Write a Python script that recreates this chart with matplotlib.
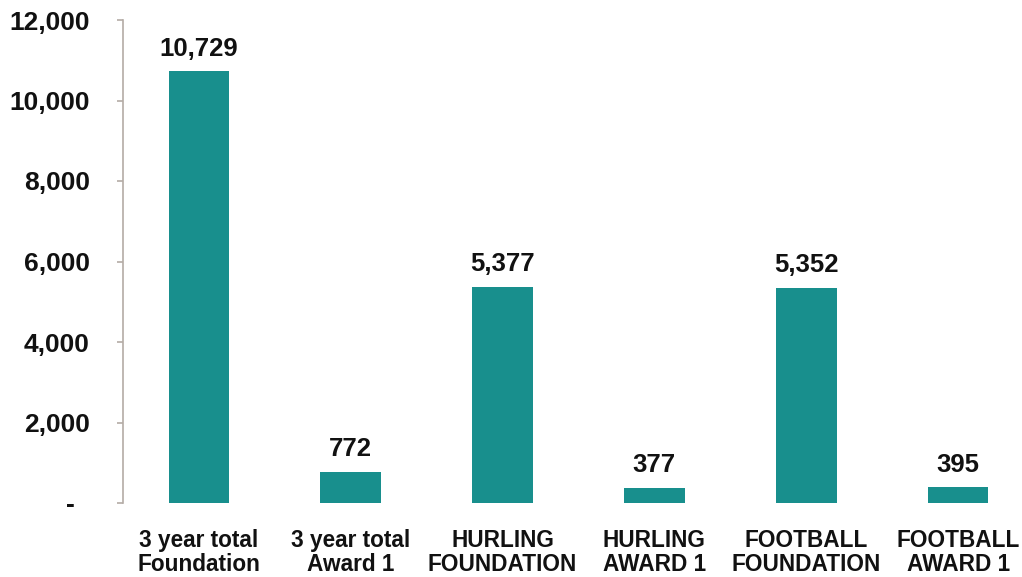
import matplotlib
matplotlib.use("Agg")
import matplotlib.pyplot as plt
from matplotlib.ticker import FuncFormatter

categories = ["3 year total\nFoundation", "3 year total\nAward 1", "HURLING\nFOUNDATION",
              "HURLING\nAWARD 1", "FOOTBALL\nFOUNDATION", "FOOTBALL\nAWARD 1"]
values = [10729, 772, 5377, 377, 5352, 395]
yticks = [0, 2000, 4000, 6000, 8000, 10000, 12000]

plt.rcParams['font.family'] = ['Liberation Sans', 'DejaVu Sans']
plt.rcParams['font.weight'] = 'bold'

fig = plt.figure(figsize=(10.22, 5.77), dpi=100)
W, H = 1022, 577
left, right, top, bottom = 123, 1034, 20, 503
ax = fig.add_axes([left / W, (H - bottom) / H, (right - left) / W, (bottom - top) / H])

x = list(range(len(categories)))
bars = ax.bar(x, values, width=0.4, color='#188f8d')
for xi, v in zip(x, values):
    ax.text(xi, v + 260, f"{v:,}", ha='center', va='bottom', fontsize=18.5,
            fontweight='bold', color='#111111')

ax.set_xlim(-0.5, 5.5)
ax.set_ylim(0, 12000)
ax.set_yticks(yticks)
ax.yaxis.set_major_formatter(FuncFormatter(lambda v, p: "-  " if v == 0 else f"{int(v):,}"))
ax.set_xticks(x)
ax.set_xticklabels(categories, fontsize=16.3, fontweight='bold', linespacing=1.05)

for s in ['top', 'right', 'bottom']:
    ax.spines[s].set_visible(False)
ax.spines['left'].set_color('#b4aca6')
ax.spines['left'].set_linewidth(1.2)
ax.tick_params(axis='y', direction='out', length=4.5, width=1.2, color='#b4aca6',
               labelsize=19, pad=19.5, labelcolor='#111111')
ax.tick_params(axis='x', length=0, pad=19, labelcolor='#111111')
for lab in ax.get_yticklabels():
    lab.set_fontweight('bold')

fig.savefig("out.png", dpi=100)
